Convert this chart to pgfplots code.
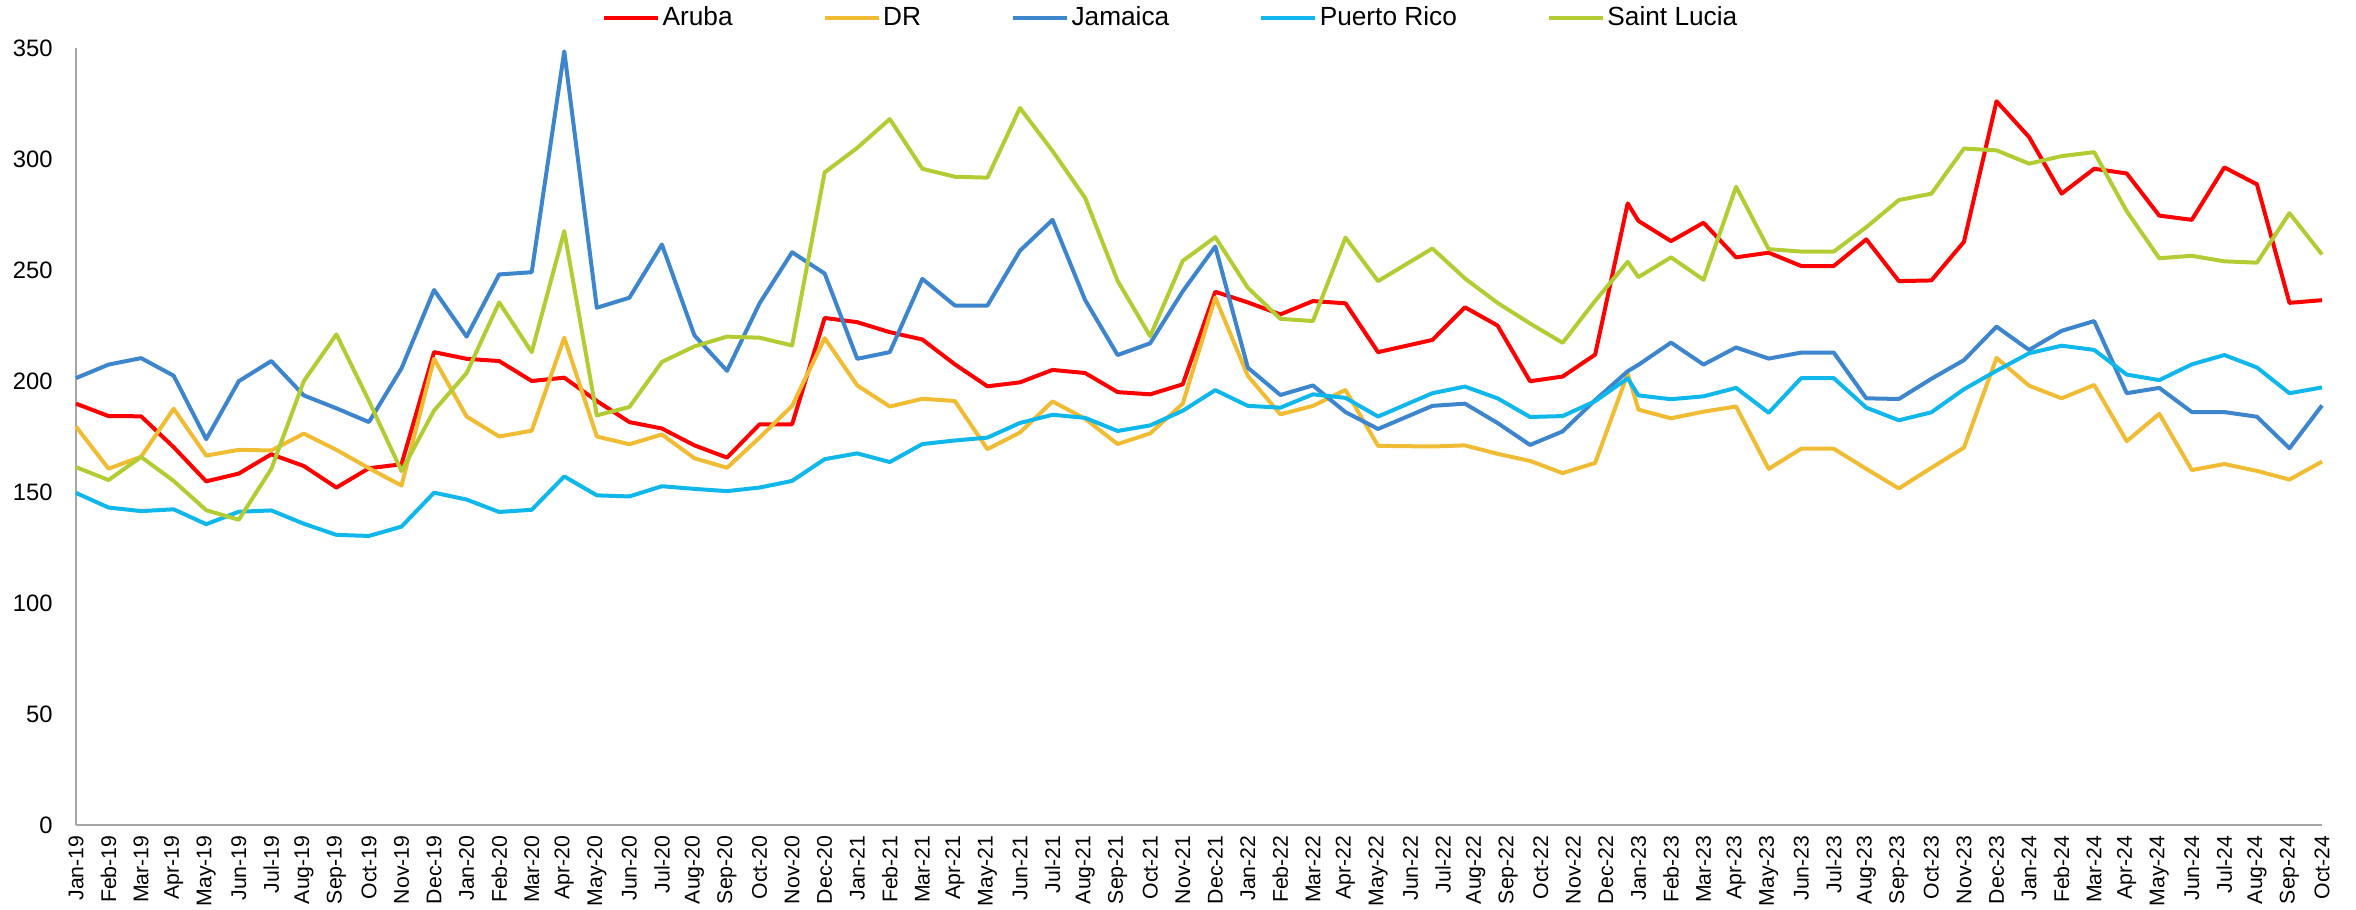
\documentclass[border=0pt]{standalone}
\usepackage{pgfplots}
\pgfplotsset{compat=1.18}
\usepackage{pgfplotstable}
\usepackage{fontspec}
\setmainfont{Liberation Sans}

\definecolor{cAruba}{RGB}{255,0,0}
\definecolor{cDR}{RGB}{240,188,52}
\definecolor{cJam}{RGB}{61,133,204}
\definecolor{cPR}{RGB}{15,183,235}
\definecolor{cSL}{RGB}{178,204,52}
\definecolor{axgray}{RGB}{166,166,166}

% Monthly index values, Jan-19 = 0 ... Oct-24 = 69
% (Jun-22 to Dec-22 readings fall late in their months)
\pgfplotstableread{
x      Aruba  DR     Jamaica PR     SL
0      189.8  179.5  201.3   149.6  161.2
1      184.2  160.5  207.4   143.0  155.4
2      184.1  165.9  210.3   141.4  165.8
3      170.2  187.5  202.4   142.2  155.0
4      154.8  166.4  173.8   135.5  141.8
5      158.3  169.0  199.9   141.1  137.5
6      167.0  168.7  209.0   141.7  160.4
7      161.7  176.3  193.5   135.7  200.0
8      152.0  169.0  187.7   130.7  221.0
9      160.7  160.7  181.5   130.2  191.0
10     162.5  152.9  205.7   134.4  159.4
11     213.0  210.0  241.0   149.7  186.7
12     210.0  184.0  220.0   146.6  203.6
13     209.0  175.0  248.0   141.0  235.4
14     200.0  177.6  249.0   142.0  213.0
15     201.5  219.5  348.5   157.0  267.5
16     191.0  175.0  233.0   148.5  184.5
17     181.5  171.5  237.5   148.0  188.3
18     178.6  175.9  261.5   152.6  208.6
19     171.0  165.2  220.5   151.4  215.6
20     165.5  160.9  204.6   150.4  220.0
21     180.5  174.5  235.0   152.0  219.5
22     180.5  188.8  258.0   155.0  216.0
23     228.4  219.3  248.4   164.8  294.0
24     226.5  198.0  210.0   167.4  305.0
25     222.0  188.5  213.0   163.5  318.0
26     218.7  192.0  246.0   171.6  295.6
27     207.5  191.0  234.0   173.2  292.0
28     197.6  169.3  234.0   174.5  291.6
29     199.4  176.8  258.7   181.1  323.0
30     205.0  190.8  272.6   184.8  303.6
31     203.6  183.0  236.5   183.4  282.5
32     195.0  171.6  211.7   177.5  245.1
33     194.0  176.4  217.0   180.0  220.2
34     198.5  189.8  240.4   186.6  254.1
35     240.2  237.6  260.6   195.9  264.8
36     235.4  202.3  206.0   188.8  242.0
37     230.0  185.0  193.7   188.0  228.0
38     236.0  188.8  198.0   194.0  227.0
39     235.0  196.0  186.0   192.4  264.6
40     213.0  170.8  178.4   184.0  245.0
41.67  218.5  170.5  188.8   194.5  259.7
42.67  233.2  171.0  189.8   197.5  246.2
43.67  225.0  167.2  181.1   192.2  235.2
44.67  199.9  164.0  171.2   183.8  225.9
45.67  202.0  158.5  177.3   184.2  217.2
46.67  211.9  163.1  191.4   190.9  236.1
47.67  280.0  203.3  204.4   201.2  253.7
48     272.1  187.1  207.3   193.5  246.8
49     263.0  183.2  217.3   191.8  255.7
50     271.3  186.2  207.4   193.1  245.6
51     255.7  188.5  215.1   196.9  287.5
52     257.8  160.4  210.1   185.7  259.4
53     251.8  169.5  212.8   201.3  258.3
54     251.8  169.5  212.8   201.3  258.3
55     263.8  160.4  192.2   188.0  269.3
56     245.0  151.6  191.9   182.3  281.5
57     245.3  160.9  201.0   185.9  284.4
58     262.7  170.0  209.4   196.3  304.7
59     326.0  210.4  224.5   204.6  303.9
60     309.9  197.9  214.0   212.5  297.9
61     284.4  192.2  222.6   215.9  301.3
62     295.6  198.2  227.0   214.0  303.1
63     293.5  172.9  194.5   202.9  276.5
64     274.5  185.2  196.9   200.4  255.3
65     272.6  159.9  186.0   207.5  256.4
66     296.2  162.6  186.0   211.7  253.9
67     288.6  159.5  183.9   206.1  253.3
68     235.2  155.6  169.7   194.5  275.6
69     236.4  163.7  189.0   197.1  257.0
}\tourism

\begin{document}
\begin{tikzpicture}
\begin{axis}[
  name=ax,
  scale only axis,
  width=898.4pt, height=310.8pt,
  xmin=0, xmax=69, ymin=0, ymax=350,
  clip=false,
  axis x line*=bottom, axis y line*=left,
  axis line style={draw=axgray, line width=0.8pt},
  major tick length=0pt,
  ytick={0,50,...,350},
  xtick={0,...,69},
  xticklabels={Jan-19,Feb-19,Mar-19,Apr-19,May-19,Jun-19,Jul-19,Aug-19,Sep-19,Oct-19,Nov-19,Dec-19,
               Jan-20,Feb-20,Mar-20,Apr-20,May-20,Jun-20,Jul-20,Aug-20,Sep-20,Oct-20,Nov-20,Dec-20,
               Jan-21,Feb-21,Mar-21,Apr-21,May-21,Jun-21,Jul-21,Aug-21,Sep-21,Oct-21,Nov-21,Dec-21,
               Jan-22,Feb-22,Mar-22,Apr-22,May-22,Jun-22,Jul-22,Aug-22,Sep-22,Oct-22,Nov-22,Dec-22,
               Jan-23,Feb-23,Mar-23,Apr-23,May-23,Jun-23,Jul-23,Aug-23,Sep-23,Oct-23,Nov-23,Dec-23,
               Jan-24,Feb-24,Mar-24,Apr-24,May-24,Jun-24,Jul-24,Aug-24,Sep-24,Oct-24},
  /pgf/number format/assume math mode=true,
  yticklabel style={font=\fontsize{9.5}{10}\selectfont, anchor=east, inner sep=0pt, xshift=-9.2pt},
  xticklabel style={font=\fontsize{8.5}{10}\selectfont, yshift=-4pt, rotate=90, anchor=east, inner sep=0pt},
  legend columns=-1,
  legend style={draw=none, fill=none, at={(0.4875,1)}, anchor=center, yshift=12pt,
    font=\fontsize{10.5}{12}\selectfont,
    nodes={inner sep=1pt},
    /tikz/every even column/.append style={column sep=35pt}},
  legend image code/.code={\draw[#1] (0pt,0pt) -- (21.6pt,0pt);},
  every axis plot/.append style={line width=1.6pt, line join=round},
]
\addplot[cAruba] table[x=x, y=Aruba] {\tourism};
\addlegendentry{Aruba}
\addplot[cDR] table[x=x, y=DR] {\tourism};
\addlegendentry{DR}
\addplot[cJam] table[x=x, y=Jamaica] {\tourism};
\addlegendentry{Jamaica}
\addplot[cPR] table[x=x, y=PR] {\tourism};
\addlegendentry{Puerto Rico}
\addplot[cSL] table[x=x, y=SL] {\tourism};
\addlegendentry{Saint Lucia}
\end{axis}
\pgfresetboundingbox
\path[use as bounding box] ([shift={(-30.4pt,-33.6pt)}]ax.south west) rectangle ([shift={(13.6pt,19.2pt)}]ax.north east);
\end{tikzpicture}
\end{document}
